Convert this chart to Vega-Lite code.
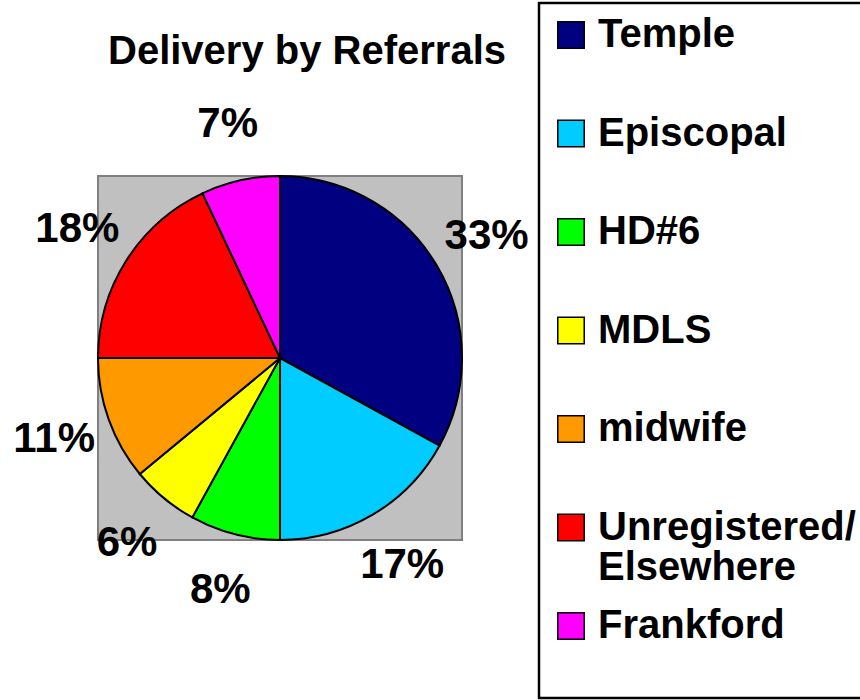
{
  "$schema": "https://vega.github.io/schema/vega-lite/v6.json",
  "width": 364,
  "height": 364,
  "autosize": {"type": "none"},
  "padding": {"left": 98, "top": 176, "right": 398, "bottom": 160},
  "background": "white",
  "config": {
    "view": {"fill": "#c0c0c0", "stroke": "#808080", "strokeWidth": 2},
    "style": {"view": {"fill": "#c0c0c0", "stroke": "#808080", "strokeWidth": 2}},
    "font": "Liberation Sans"
  },
  "title": {
    "text": "Delivery by Referrals",
    "font": "Liberation Sans",
    "fontSize": 40,
    "fontWeight": "bold",
    "color": "black",
    "anchor": "middle",
    "dx": 27,
    "offset": -102,
    "baseline": "alphabetic"
  },
  "data": {
    "values": [
      {"referral": "Temple", "share": 0.33, "idx": 1},
      {"referral": "Episcopal", "share": 0.17, "idx": 2},
      {"referral": "HD#6", "share": 0.08, "idx": 3},
      {"referral": "MDLS", "share": 0.06, "idx": 4},
      {"referral": "midwife", "share": 0.11, "idx": 5},
      {"referral": "Unregistered/Elsewhere", "share": 0.18, "idx": 6},
      {"referral": "Frankford", "share": 0.07, "idx": 7}
    ]
  },
  "encoding": {
    "theta": {"field": "share", "type": "quantitative", "stack": true},
    "order": {"field": "idx", "type": "quantitative"}
  },
  "layer": [
    {
      "mark": {"type": "arc", "stroke": "black", "strokeWidth": 2},
      "encoding": {
        "color": {
          "field": "referral",
          "type": "nominal",
          "sort": null,
          "scale": {
            "domain": ["Temple", "Episcopal", "HD#6", "MDLS", "midwife", "Unregistered/Elsewhere", "Frankford"],
            "range": ["#000080", "#00CCFF", "#00FF00", "#FFFF00", "#FF9900", "#FF0000", "#FF00FF"]
          },
          "legend": {
            "orient": "none",
            "legendX": 441,
            "legendY": -173,
            "title": null,
            "symbolType": "square",
            "symbolSize": 700,
            "symbolStrokeColor": "black",
            "symbolStrokeWidth": 1.5,
            "symbolOpacity": 1,
            "labelFont": "Liberation Sans",
            "labelFontSize": 40,
            "labelFontWeight": "bold",
            "labelColor": "black",
            "labelLimit": 400,
            "labelOffset": 7,
            "labelBaseline": "middle",
            "labelExpr": "datum.label == 'Unregistered/Elsewhere' ? ['Unregistered/  ', 'Elsewhere'] : [datum.label, '']",
            "rowPadding": 18.5,
            "padding": 12,
            "strokeColor": "black",
            "fillColor": "white",
            "encode": {
              "legend": {"update": {"strokeWidth": {"value": 2.5}}},
              "labels": {"update": {"lineHeight": {"value": 40}}}
            }
          }
        }
      }
    },
    {
      "mark": {"type": "text", "radius": 240, "font": "Liberation Sans", "fontSize": 42, "fontWeight": "bold", "color": "black"},
      "encoding": {
        "text": {"field": "share", "type": "quantitative", "format": ".0%"}
      }
    }
  ]
}
